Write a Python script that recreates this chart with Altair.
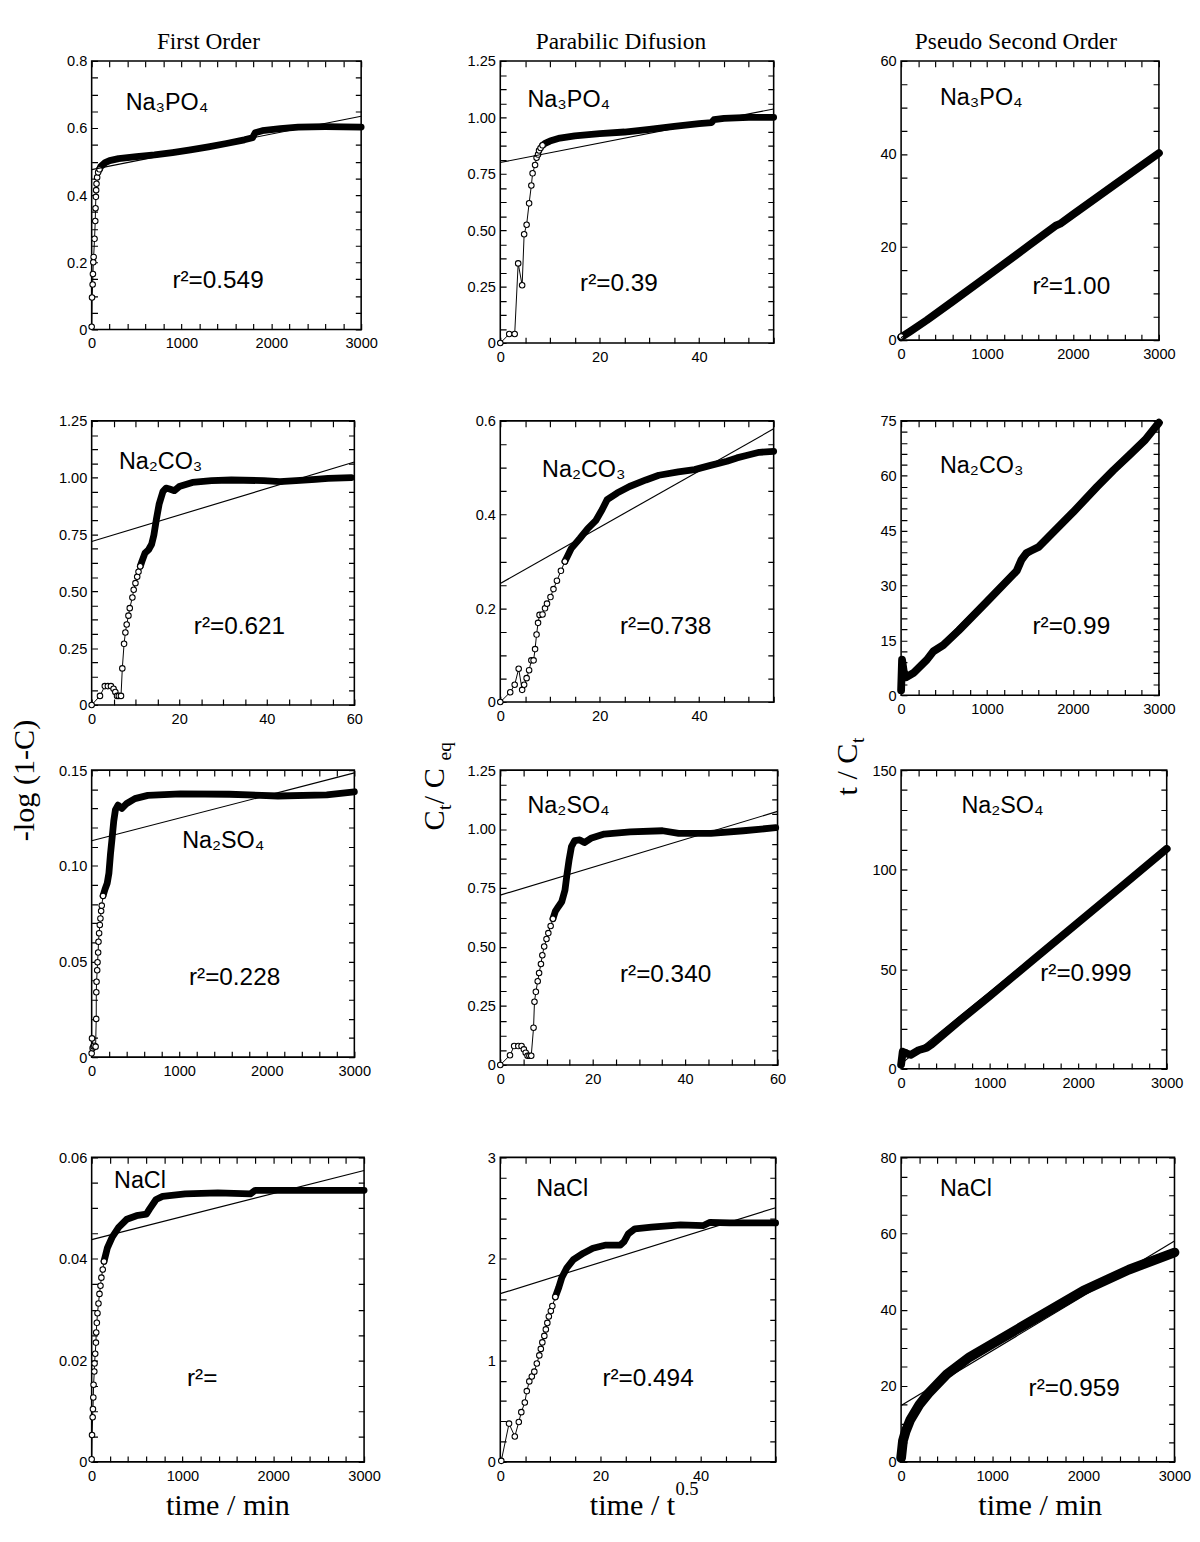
import altair as alt
import pandas as pd

SANS = "Liberation Sans"
SERIF = "Liberation Serif"

# ---------------- texts ----------------
col_titles = ["First Order", "Parabilic Difusion", "Pseudo Second Order"]
y_title_1 = "-log (1-C)"
y_title_2 = ["C", "t", " / C", "eq"]
y_title_3 = ["t / C", "t"]
x_title_1 = "time / min"
x_title_2 = ["time / t", "0.5"]
species = ["Na₃PO₄", "Na₂CO₃", "Na₂SO₄", "NaCl"]
r2_labels = [["r²=0.549", "r²=0.39", "r²=1.00"],
             ["r²=0.621", "r²=0.738", "r²=0.99"],
             ["r²=0.228", "r²=0.340", "r²=0.999"],
             ["r²=", "r²=0.494", "r²=0.959"]]

# ---------------- data ----------------
p11_pts_x = [0, 4, 11, 14, 18, 22, 32, 40, 43, 47, 50, 54, 61, 72, 87]
p11_pts_y = [0.008, 0.095, 0.134, 0.165, 0.2, 0.216, 0.27, 0.323, 0.361, 0.395, 0.415, 0.434, 0.453, 0.468, 0.477]
p11_band_x = [87, 100, 150, 200, 300, 500, 700, 900, 1100, 1300, 1500, 1700, 1790, 1820, 1900, 2100, 2300, 2600, 3000]
p11_band_y = [0.477, 0.485, 0.497, 0.503, 0.509, 0.515, 0.52, 0.527, 0.535, 0.544, 0.554, 0.565, 0.571, 0.586, 0.592, 0.598, 0.603, 0.604, 0.603]
p11_fit_x = [0, 3000]
p11_fit_y = [0.476, 0.635]

p12_pts_x = [0, 1.8, 2.9, 3.6, 4.4, 4.8, 5.3, 5.8, 6.25, 6.5, 7.0, 7.3, 7.6, 7.8, 8.1, 8.5]
p12_pts_y = [0, 0.04, 0.04, 0.353, 0.256, 0.482, 0.524, 0.619, 0.698, 0.752, 0.789, 0.821, 0.835, 0.853, 0.864, 0.876]
p12_band_x = [8.5, 9, 10, 12, 15, 20, 25, 30, 35, 40, 42.5, 43, 45, 50, 55]
p12_band_y = [0.876, 0.885, 0.895, 0.908, 0.918, 0.928, 0.935, 0.947, 0.96, 0.972, 0.977, 0.99, 0.995, 1.0, 1.0]
p12_fit_x = [0, 55]
p12_fit_y = [0.80, 1.037]

p13_pts_x = [0]
p13_pts_y = [0.8]
p13_band_x = [0, 50, 100, 300, 600, 1000, 1500, 1800, 1850, 2000, 2500, 3000]
p13_band_y = [0.6, 1.2, 1.8, 4.3, 8.3, 13.7, 20.5, 24.6, 25.0, 27.0, 33.6, 40.2]
p13_fit_x = [0, 3000]
p13_fit_y = [0.5, 40.3]

p21_pts_x = [0, 1.9, 3.0, 3.7, 4.4, 5.0, 5.4, 5.8, 6.2, 6.7, 7.0, 7.4, 7.7, 8.0, 8.4, 8.7, 9.3, 9.6, 10.0, 10.4, 10.7, 11.1]
p21_pts_y = [0, 0.04, 0.083, 0.083, 0.083, 0.071, 0.057, 0.04, 0.04, 0.04, 0.161, 0.269, 0.319, 0.354, 0.393, 0.426, 0.473, 0.507, 0.536, 0.564, 0.586, 0.61]
p21_band_x = [11.1, 11.5, 12.2, 13.0, 13.7, 14.2, 14.8, 15.4, 16.3, 17.0, 17.8, 18.9, 20, 23, 27.4, 31.9, 39.3, 43, 46.7, 51.1, 54, 59.3]
p21_band_y = [0.61, 0.633, 0.669, 0.683, 0.707, 0.747, 0.819, 0.883, 0.94, 0.954, 0.95, 0.943, 0.961, 0.979, 0.987, 0.99, 0.987, 0.983, 0.987, 0.993, 0.997, 1.0]
p21_fit_x = [0, 60]
p21_fit_y = [0.719, 1.069]

p22_pts_x = [0, 2.0, 2.9, 3.7, 4.4, 4.8, 5.3, 5.8, 6.25, 6.7, 7.0, 7.3, 7.6, 7.9, 8.5, 9.0, 9.4, 10.1, 10.7, 11.4, 12.2, 13.0]
p22_pts_y = [0, 0.021, 0.037, 0.071, 0.026, 0.037, 0.051, 0.068, 0.089, 0.089, 0.113, 0.144, 0.169, 0.186, 0.187, 0.2, 0.21, 0.224, 0.241, 0.259, 0.28, 0.3]
p22_band_x = [13.0, 14.3, 16.0, 17.6, 19.2, 20.5, 21.5, 23.5, 26, 29.3, 31.9, 35.8, 39.1, 42.3, 45.6, 47.6, 49.5, 52.1, 55]
p22_band_y = [0.3, 0.328, 0.349, 0.37, 0.387, 0.411, 0.432, 0.446, 0.46, 0.474, 0.484, 0.491, 0.496, 0.505, 0.514, 0.521, 0.526, 0.533, 0.535]
p22_fit_x = [0, 55]
p22_fit_y = [0.253, 0.583]

p23_pts_x = []
p23_pts_y = []
p23_band_x = [0, 11, 30, 56, 150, 300, 375, 490, 670, 1000, 1345, 1400, 1460, 1520, 1600, 2000, 2280, 2470, 2650, 2840, 3000]
p23_band_y = [1.3, 9.7, 6.6, 4.9, 6.2, 9.7, 12.0, 13.7, 17.7, 25.6, 34.0, 37.0, 38.9, 39.6, 40.5, 50.0, 57.0, 61.5, 65.5, 69.8, 74.5]
p23_fit_x = [0, 3000]
p23_fit_y = [3.0, 74.0]

p31_pts_x = [0, 4, 11, 19, 30, 45, 52, 53, 56, 63, 67, 74, 78, 85, 93, 100, 108, 115, 130]
p31_pts_y = [0.002, 0.0098, 0.0047, 0.0056, 0.006, 0.0055, 0.02, 0.0339, 0.0394, 0.0454, 0.0496, 0.0547, 0.0603, 0.0648, 0.0691, 0.0725, 0.0764, 0.0792, 0.0843]
p31_band_x = [130, 152, 178, 197, 215, 234, 252, 271, 301, 345, 401, 494, 642, 1014, 1571, 2128, 2685, 3000]
p31_band_y = [0.0843, 0.0877, 0.091, 0.0962, 0.1063, 0.1148, 0.1233, 0.1292, 0.1317, 0.130, 0.1326, 0.1351, 0.1368, 0.1376, 0.1374, 0.1365, 0.1371, 0.1387]
p31_fit_x = [0, 3000]
p31_fit_y = [0.1131, 0.1486]

p32_pts_x = [0, 2.1, 3.0, 3.9, 4.6, 5.1, 5.5, 5.9, 6.3, 6.7, 7.2, 7.4, 7.7, 8.1, 8.4, 8.8, 9.1, 9.5, 10.0, 10.4, 10.9, 11.4]
p32_pts_y = [0, 0.041, 0.08, 0.08, 0.08, 0.066, 0.052, 0.039, 0.039, 0.039, 0.158, 0.268, 0.31, 0.355, 0.39, 0.428, 0.465, 0.502, 0.534, 0.559, 0.589, 0.62]
p32_band_x = [11.4, 11.9, 12.6, 13.3, 14.0, 14.4, 14.9, 15.4, 16.1, 17.2, 18.2, 19.6, 22.5, 28.1, 35.1, 38.6, 45.6, 52.6, 59.6]
p32_band_y = [0.62, 0.651, 0.672, 0.692, 0.741, 0.803, 0.871, 0.926, 0.951, 0.954, 0.943, 0.961, 0.979, 0.988, 0.993, 0.982, 0.982, 0.993, 1.006]
p32_fit_x = [0, 60]
p32_fit_y = [0.72, 1.075]

p33_pts_x = []
p33_pts_y = []
p33_band_x = [0, 18, 54, 109, 199, 290, 344, 670, 1000, 1500, 2000, 2500, 3000]
p33_band_y = [2.1, 8.6, 7.8, 7.0, 9.4, 10.6, 12.2, 24.5, 36.5, 55.0, 73.5, 92.0, 110.5]
p33_fit_x = [0, 3000]
p33_fit_y = [2.5, 110.8]

p41_pts_x = [0, 4, 11, 14, 18, 21, 29, 32, 39, 47, 50, 57, 64, 75, 86, 97, 107, 122, 136]
p41_pts_y = [0.0005, 0.0053, 0.0088, 0.0104, 0.0127, 0.0152, 0.0178, 0.0194, 0.0213, 0.0235, 0.0255, 0.0274, 0.0293, 0.0312, 0.0331, 0.0347, 0.0363, 0.0379, 0.0395]
p41_band_x = [136, 172, 226, 297, 387, 494, 602, 637, 709, 781, 1031, 1389, 1747, 1801, 2284, 3000]
p41_band_y = [0.0395, 0.0421, 0.0443, 0.0462, 0.0478, 0.0485, 0.0488, 0.0498, 0.0517, 0.0523, 0.0528, 0.053, 0.0528, 0.0535, 0.0535, 0.0535]
p41_fit_x = [0, 3000]
p41_fit_y = [0.0438, 0.0574]

p42_pts_x = [0.2, 1.75, 2.9, 3.7, 4.2, 4.9, 5.3, 5.8, 6.3, 6.8, 7.3, 7.8, 8.1, 8.4, 8.8, 9.1, 9.4, 9.7, 10.1, 10.4, 11.0]
p42_pts_y = [0.01, 0.377, 0.25, 0.393, 0.49, 0.585, 0.697, 0.793, 0.841, 0.889, 0.969, 1.049, 1.113, 1.177, 1.241, 1.305, 1.369, 1.433, 1.487, 1.535, 1.625]
p42_band_x = [11.0, 11.7, 12.3, 13.3, 14.6, 16.6, 18.5, 21.1, 24.0, 24.7, 25.6, 26.9, 30.2, 36.0, 40.6, 41.9, 45.8, 55]
p42_band_y = [1.625, 1.72, 1.816, 1.912, 1.992, 2.056, 2.104, 2.136, 2.136, 2.168, 2.248, 2.296, 2.312, 2.334, 2.328, 2.36, 2.354, 2.354]
p42_fit_x = [0, 55]
p42_fit_y = [1.657, 2.504]

p43_pts_x = []
p43_pts_y = []
p43_band_x = [0, 20, 50, 100, 200, 300, 500, 750, 1000, 1500, 2000, 2500, 3000]
p43_band_y = [1.0, 5.5, 8.0, 11.0, 15.0, 18.0, 23.0, 27.5, 31.0, 38.0, 45.0, 50.5, 55.0]
p43_fit_x = [0, 3000]
p43_fit_y = [14.8, 58.0]


def tick_values(dom, step):
    n = int(round((dom[1] - dom[0]) / step))
    return [round(dom[0] + i * step, 6) for i in range(n + 1)]


def text_layer(s, x, y, font, size, align="left", baseline="middle", angle=0):
    kw = dict(font=font, fontSize=size, align=align, baseline=baseline, color="black")
    if angle:
        kw["angle"] = angle
    return alt.Chart(pd.DataFrame({"t": [s]})).mark_text(**kw).encode(
        x=alt.value(x), y=alt.value(y), text="t:N")


def major_expr(step, fmt):
    cond = "abs(datum.value / %s - round(datum.value / %s)) < 0.001" % (step, step)
    if fmt == "d":
        lab = "format(datum.value, 'd')"
    else:
        lab = "(datum.value == 0 ? '0' : format(datum.value, '%s'))" % fmt
    return "%s ? %s : ''" % (cond, lab)


def panel(W, H, xdom, ydom, xmajor_step, xstep, ymajor_step, ystep, yfmt,
          pts_x, pts_y, band_x, band_y, fit_x, fit_y, band_w, texts):
    xs = alt.Scale(domain=xdom, nice=False, zero=False)
    ys = alt.Scale(domain=ydom, nice=False, zero=False)
    # minor ticks drawn as short inward grid dashes on both edges, labels only at major values
    ax_x = alt.Axis(orient="bottom", values=tick_values(xdom, xstep),
                    labelExpr=major_expr(xmajor_step, "d"), labelOverlap=False,
                    ticks=False, tickSize=0, domain=False, labelPadding=7, labelFlush=False,
                    grid=True, gridColor="black", gridOpacity=1, gridWidth=1.2,
                    gridDash=[6, H - 12], title=None)
    ax_y = alt.Axis(orient="left", values=tick_values(ydom, ystep),
                    labelExpr=major_expr(ymajor_step, yfmt), labelOverlap=False,
                    ticks=False, tickSize=0, domain=False, labelPadding=5, labelFlush=False,
                    grid=True, gridColor="black", gridOpacity=1, gridWidth=1.2,
                    gridDash=[6, W - 12], title=None)
    X = alt.X("x:Q", scale=xs, axis=ax_x)
    Y = alt.Y("y:Q", scale=ys, axis=ax_y)

    conn = pd.DataFrame({"x": list(pts_x) + list(band_x), "y": list(pts_y) + list(band_y)})
    conn["i"] = range(len(conn))
    band = pd.DataFrame({"x": band_x, "y": band_y})
    band["i"] = range(len(band))
    fit = pd.DataFrame({"x": fit_x, "y": fit_y})

    layers = [
        alt.Chart(conn).mark_line(color="black", strokeWidth=1).encode(x=X, y=Y, order="i:Q"),
        alt.Chart(band).mark_line(color="black", strokeWidth=band_w, strokeCap="round",
                                  strokeJoin="round").encode(x=X, y=Y, order="i:Q"),
    ]
    if len(pts_x):
        pts = pd.DataFrame({"x": pts_x, "y": pts_y})
        layers.append(alt.Chart(pts).mark_point(shape="circle", filled=True, fill="white",
                                                stroke="black", strokeWidth=1.1, size=32,
                                                opacity=1).encode(x=X, y=Y))
    layers.append(alt.Chart(fit).mark_line(color="black", strokeWidth=1.2).encode(x=X, y=Y))
    for t in texts:
        layers.append(text_layer(*t))
    return alt.layer(*layers).properties(width=W, height=H)


spacer_df = pd.DataFrame({"s": [0]})


def spacer(w, h):
    return alt.Chart(spacer_df).mark_point(opacity=0, size=1).encode(
        x=alt.value(0), y=alt.value(0)).properties(
        width=w, height=h, view=alt.ViewBackground(stroke="transparent"))


TF = 24
# header cell at the grid origin: column titles (they are the topmost items of the page)
header = alt.layer(
    alt.Chart(spacer_df).mark_point(opacity=0, size=1).encode(x=alt.value(0), y=alt.value(0)),
    text_layer(col_titles[0], 204, 0, SERIF, TF, "center", "top"),
    text_layer(col_titles[1], 628, 0, SERIF, TF, "center", "top"),
    text_layer(col_titles[2], 1034, 0, SERIF, TF, "center", "top"),
).properties(width=1, height=1, view=alt.ViewBackground(stroke="transparent"))

SP = 24
RS = 25
AF = 31
XB = 368

p11 = panel(277, 276, [0, 3000], [0, 0.8], 1000, 200, 0.2, 0.05, ".1f",
            p11_pts_x, p11_pts_y, p11_band_x, p11_band_y, p11_fit_x, p11_fit_y, 7,
            [(species[0], 35, 43, SANS, SP), (r2_labels[0][0], 83, 225, SANS, RS)])
p12 = panel(281, 290, [0, 55], [0, 1.25], 20, 5, 0.25, 0.0625, ".2f",
            p12_pts_x, p12_pts_y, p12_band_x, p12_band_y, p12_fit_x, p12_fit_y, 7,
            [(species[0], 28, 40, SANS, SP), (r2_labels[0][1], 82, 228, SANS, RS)])
p13 = panel(265, 287, [0, 3000], [0, 60], 1000, 200, 20, 5, "d",
            p13_pts_x, p13_pts_y, p13_band_x, p13_band_y, p13_fit_x, p13_fit_y, 8,
            [(species[0], 40, 38, SANS, SP), (r2_labels[0][2], 135, 232, SANS, RS)])

p21 = panel(270, 292, [0, 60], [0, 1.25], 20, 5, 0.25, 0.0625, ".2f",
            p21_pts_x, p21_pts_y, p21_band_x, p21_band_y, p21_fit_x, p21_fit_y, 7,
            [(species[1], 28, 42, SANS, SP), (r2_labels[1][0], 105, 211, SANS, RS)])
p22 = panel(281, 289, [0, 55], [0, 0.6], 20, 5, 0.2, 0.05, ".1f",
            p22_pts_x, p22_pts_y, p22_band_x, p22_band_y, p22_fit_x, p22_fit_y, 7,
            [(species[1], 43, 51, SANS, SP), (r2_labels[1][1], 123, 211, SANS, RS)])
p23 = panel(265, 282, [0, 3000], [0, 75], 1000, 200, 15, 3, "d",
            p23_pts_x, p23_pts_y, p23_band_x, p23_band_y, p23_fit_x, p23_fit_y, 8,
            [(species[1], 40, 47, SANS, SP), (r2_labels[1][2], 135, 211, SANS, RS)])

p31 = panel(270, 295, [0, 3000], [0, 0.15], 1000, 200, 0.05, 0.01, ".2f",
            p31_pts_x, p31_pts_y, p31_band_x, p31_band_y, p31_fit_x, p31_fit_y, 7,
            [(species[2], 93, 73, SANS, SP), (r2_labels[2][0], 100, 213, SANS, RS),
             (y_title_1, -83, 73, SERIF, AF, "left", "top", 270)])
p32 = panel(285, 303, [0, 60], [0, 1.25], 20, 5, 0.25, 0.0625, ".2f",
            p32_pts_x, p32_pts_y, p32_band_x, p32_band_y, p32_fit_x, p32_fit_y, 7,
            [(species[2], 28, 37, SANS, SP), (r2_labels[2][1], 123, 210, SANS, RS),
             (y_title_2[0], -58, 62, SERIF, AF, "left", "alphabetic", 270),
             (y_title_2[1], -51, 41, SERIF, 20, "left", "alphabetic", 270),
             (y_title_2[2], -58, 35, SERIF, AF, "left", "alphabetic", 270),
             (y_title_2[3], -51, -10, SERIF, 20, "left", "alphabetic", 270)])
p33 = panel(273, 307, [0, 3000], [0, 150], 1000, 200, 50, 10, "d",
            p33_pts_x, p33_pts_y, p33_band_x, p33_band_y, p33_fit_x, p33_fit_y, 8,
            [(species[2], 62, 37, SANS, SP), (r2_labels[2][2], 143, 209, SANS, RS),
             (y_title_3[0], -45, 26, SERIF, AF, "left", "alphabetic", 270),
             (y_title_3[1], -38, -28, SERIF, 20, "left", "alphabetic", 270)])

p41 = panel(280, 313, [0, 3000], [0, 0.06], 1000, 200, 0.02, 0.005, ".2f",
            p41_pts_x, p41_pts_y, p41_band_x, p41_band_y, p41_fit_x, p41_fit_y, 7,
            [(species[3], 23, 25, SANS, SP), (r2_labels[3][0], 98, 227, SANS, RS),
             (x_title_1, 140, XB, SERIF, AF, "center", "alphabetic")])
p42 = panel(283, 313, [0, 55], [0, 3], 20, 5, 1, 0.2, "d",
            p42_pts_x, p42_pts_y, p42_band_x, p42_band_y, p42_fit_x, p42_fit_y, 7,
            [(species[3], 37, 33, SANS, SP), (r2_labels[3][1], 105, 227, SANS, RS),
             (x_title_2[0], 92, XB, SERIF, AF, "left", "alphabetic"),
             (x_title_2[1], 180, XB - 21, SERIF, 19, "left", "alphabetic")])
p43 = panel(281, 313, [0, 3000], [0, 80], 1000, 200, 20, 5, "d",
            p43_pts_x, p43_pts_y, p43_band_x, p43_band_y, p43_fit_x, p43_fit_y, 10,
            [(species[3], 40, 33, SANS, SP), (r2_labels[3][2], 131, 237, SANS, RS),
             (x_title_1, 143, XB, SERIF, AF, "center", "alphabetic")])

rows = [
    [header, spacer(1, 29), spacer(1, 1), spacer(1, 29), spacer(1, 1), spacer(1, 31)],
    [spacer(79, 1), p11, spacer(136, 1), p12, spacer(127, 1), p13],
    [spacer(1, 1), spacer(1, 80), spacer(1, 1), spacer(1, 59), spacer(1, 1), spacer(1, 67)],
    [spacer(82, 1), p21, spacer(140, 1), p22, spacer(127, 1), p23],
    [spacer(1, 1), spacer(1, 56), spacer(1, 1), spacer(1, 67), spacer(1, 1), spacer(1, 63)],
    [spacer(84, 1), p31, spacer(138, 1), p32, spacer(115, 1), p33],
    [spacer(1, 1), spacer(1, 91), spacer(1, 1), spacer(1, 82), spacer(1, 1), spacer(1, 82)],
    [spacer(79, 1), p41, spacer(131, 1), p42, spacer(111, 1), p43],
]

chart = alt.ConcatChart(concat=[c for r in rows for c in r], columns=6, spacing=0,
                        align="none", bounds="flush", padding=0)
chart = chart.properties(padding=0, autosize=alt.AutoSizeParams(type="pad"))
chart = chart.configure_view(stroke="black", strokeWidth=1.6).configure_axis(
    labelFont=SANS, labelFontSize=15, labelColor="black")

chart.save("out.html", embed_options={"renderer": "svg", "actions": False})
